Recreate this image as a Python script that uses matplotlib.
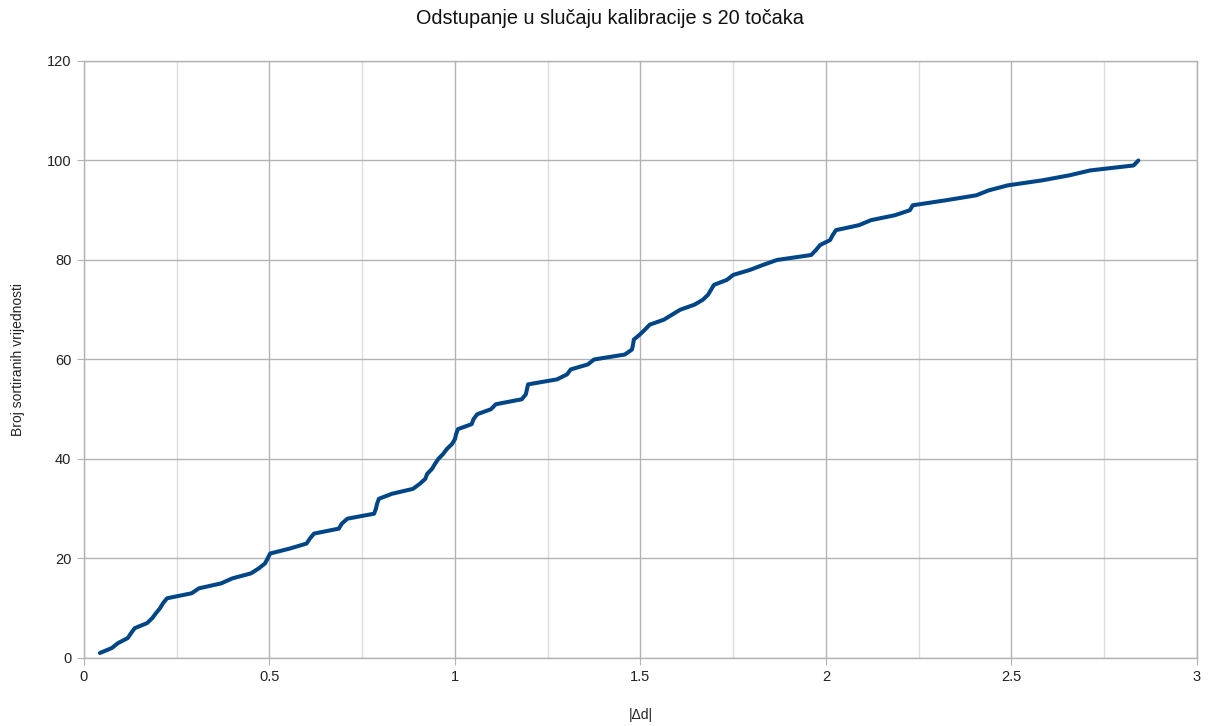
import matplotlib
matplotlib.use("Agg")
import matplotlib.pyplot as plt
from matplotlib.ticker import MultipleLocator

plt.rcParams['font.family'] = ['Liberation Sans', 'DejaVu Sans']

title = "Odstupanje u slučaju kalibracije s 20 točaka"
xlabel = "|Δd|"
ylabel = "Broj sortiranih vrijednosti"

rank = list(range(1, 101))
abs_dd = [
    0.043, 0.075, 0.092, 0.118, 0.127, 0.137, 0.170, 0.184, 0.194, 0.205,
    0.213, 0.224, 0.290, 0.310, 0.370, 0.400, 0.450, 0.471, 0.488, 0.495,
    0.502, 0.555, 0.600, 0.609, 0.620, 0.687, 0.695, 0.710, 0.782, 0.787,
    0.790, 0.795, 0.830, 0.887, 0.905, 0.920, 0.925, 0.938, 0.946, 0.955,
    0.968, 0.978, 0.992, 1.000, 1.003, 1.008, 1.045, 1.050, 1.060, 1.097,
    1.110, 1.180, 1.191, 1.194, 1.197, 1.275, 1.302, 1.312, 1.358, 1.375,
    1.458, 1.477, 1.480, 1.482, 1.498, 1.512, 1.525, 1.563, 1.585, 1.607,
    1.645, 1.668, 1.682, 1.690, 1.698, 1.733, 1.750, 1.795, 1.830, 1.868,
    1.960, 1.973, 1.984, 2.011, 2.018, 2.027, 2.089, 2.121, 2.186, 2.226,
    2.234, 2.323, 2.405, 2.439, 2.490, 2.582, 2.655, 2.712, 2.829, 2.842,
]

fig = plt.figure(figsize=(12.08, 7.26), dpi=100)
ax = fig.add_axes([0.0695, 0.0937, 0.9214, 0.8223])

ax.plot(abs_dd, rank, color='#004586', linewidth=2.9,
        solid_joinstyle='round', solid_capstyle='round', zorder=3)

ax.set_xlim(0, 3)
ax.set_ylim(0, 120)
ax.xaxis.set_major_locator(MultipleLocator(0.5))
ax.xaxis.set_minor_locator(MultipleLocator(0.25))
ax.yaxis.set_major_locator(MultipleLocator(20))
ax.xaxis.set_major_formatter(plt.FuncFormatter(lambda v, p: f"{v:g}"))

ax.grid(which='major', color='#b3b3b3', linewidth=1.0)
ax.grid(which='minor', axis='x', color='#dddddd', linewidth=1.0)
ax.set_axisbelow(True)
for s in ax.spines.values():
    s.set_color('#b3b3b3')
    s.set_linewidth(1.0)
ax.tick_params(which='major', length=5, color='#b3b3b3', labelsize=10.5,
               labelcolor='#222222', pad=4)
ax.tick_params(which='minor', length=0)

fig.text(610 / 1208, 1 - 18 / 726, title, fontsize=14.3,
         color='#111111', ha='center', va='center')
ax.set_xlabel(xlabel, fontsize=10, color='#222222')
ax.xaxis.set_label_coords(0.5, (658 - 715) / 597)
ax.xaxis.label.set_va('center')
ax.set_ylabel(ylabel, fontsize=10, color='#222222')
ax.yaxis.set_label_coords((18 - 84) / 1113, 0.5)
ax.yaxis.label.set_va('center')

fig.savefig("out.png", dpi=100)
